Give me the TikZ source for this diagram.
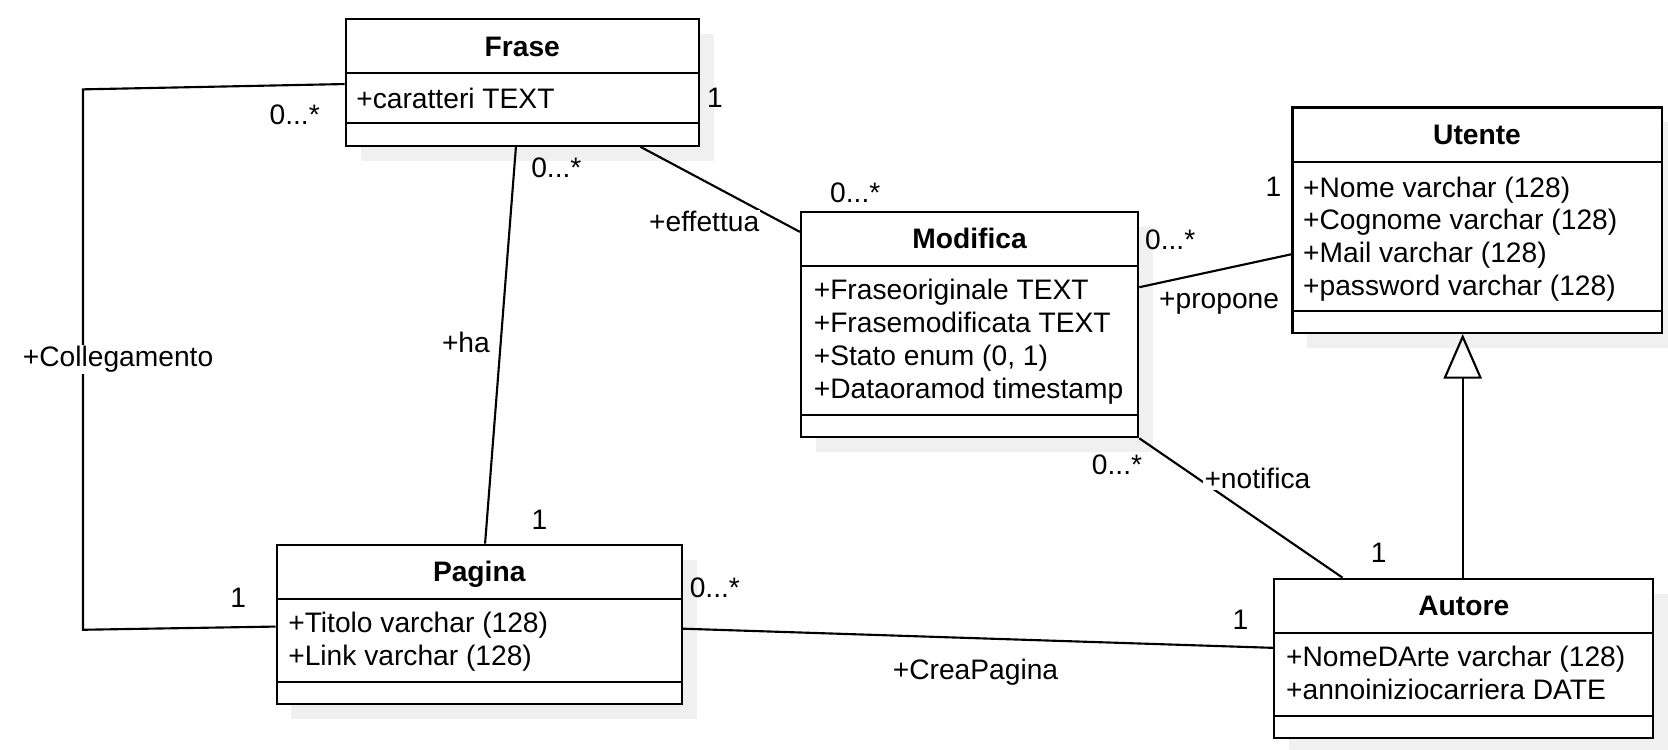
\documentclass[tikz,border=0pt]{standalone}
\usepackage{fontspec}
\setmainfont{Liberation Sans}
\usetikzlibrary{shadows}
\usetikzlibrary{arrows.meta}

\newcommand{\umlfont}{\fontsize{26.5}{31}\selectfont}
\tikzset{
  classbox/.style={draw,fill=white,line width=2pt,anchor=north west,inner sep=0pt,
    drop shadow={shadow xshift=14pt,shadow yshift=-14pt,fill=black!6,opacity=1}},
  title/.style={anchor=base,font=\umlfont\bfseries},
  attr/.style={anchor=north west,align=left,inner sep=0pt},
  lbl/.style={fill=white,inner sep=1pt},
}

\begin{document}
\begin{tikzpicture}[x=1pt,y=1pt,line width=2pt,every node/.style={font=\umlfont}]
\useasboundingbox (0,0) rectangle (1568,-705);

\node[classbox,minimum width=332pt,minimum height=119pt] (frase) at (324,-17) {};
\draw ([yshift=-52pt]frase.north west) -- ([yshift=-52pt]frase.north east);
\draw ([yshift=22pt]frase.south west) -- ([yshift=22pt]frase.south east);
\node[title] (frase-name) at ([yshift=-36pt]frase.north) {Frase};
\node[attr] (frase-attr) at ([xshift=10pt,yshift=-65pt]frase.north west) {+caratteri TEXT};

\node[classbox,minimum width=347pt,minimum height=212pt] (utente) at (1214,-100) {};
\draw ([yshift=-52pt]utente.north west) -- ([yshift=-52pt]utente.north east);
\draw ([yshift=22pt]utente.south west) -- ([yshift=22pt]utente.south east);
\node[title] (utente-name) at ([yshift=-36pt]utente.north) {Utente};
\node[attr] (utente-attr) at ([xshift=10pt,yshift=-65pt]utente.north west)
  {+Nome varchar (128)\\+Cognome varchar (128)\\+Mail varchar (128)\\+password varchar (128)};

\node[classbox,minimum width=317pt,minimum height=212pt] (modifica) at (752,-198) {};
\draw ([yshift=-52pt]modifica.north west) -- ([yshift=-52pt]modifica.north east);
\draw ([yshift=22pt]modifica.south west) -- ([yshift=22pt]modifica.south east);
\node[title] (modifica-name) at ([yshift=-36pt]modifica.north) {Modifica};
\node[attr] (modifica-attr) at ([xshift=12pt,yshift=-63pt]modifica.north west)
  {+Fraseoriginale TEXT\\+Frasemodificata TEXT\\+Stato enum (0, 1)\\+Dataoramod timestamp};

\node[classbox,minimum width=381pt,minimum height=150pt] (pagina) at (259,-511) {};
\draw ([yshift=-52pt]pagina.north west) -- ([yshift=-52pt]pagina.north east);
\draw ([yshift=22pt]pagina.south west) -- ([yshift=22pt]pagina.south east);
\node[title] (pagina-name) at ([yshift=-36pt]pagina.north) {Pagina};
\node[attr] (pagina-attr) at ([xshift=11pt,yshift=-63pt]pagina.north west)
  {+Titolo varchar (128)\\+Link varchar (128)};

\node[classbox,minimum width=356pt,minimum height=150pt] (autore) at (1197,-543) {};
\draw ([yshift=-52pt]autore.north west) -- ([yshift=-52pt]autore.north east);
\draw ([yshift=22pt]autore.south west) -- ([yshift=22pt]autore.south east);
\node[title] (autore-name) at ([yshift=-36pt]autore.north) {Autore};
\node[attr] (autore-attr) at ([xshift=11pt,yshift=-63pt]autore.north west)
  {+NomeDArte varchar (128)\\+annoiniziocarriera DATE};

\draw ([xshift=-6pt]frase.south) -- ([xshift=5.5pt]pagina.north);
\draw ([xshift=111pt]frase.south) -- ([yshift=-20pt]modifica.north west);
\draw ([yshift=-62pt]frase.north west) -- (78,-84) -- (78,-592) -- ([yshift=-78pt]pagina.north west);
\draw ([yshift=-72pt]modifica.north east) -- ([yshift=-139pt]utente.north west);
\draw (modifica.south east) -- ([xshift=65pt]autore.north west);
\draw ([yshift=-80pt]pagina.north east) -- ([yshift=-66pt]autore.north west);
\draw[-{Triangle[open,length=42pt,width=36pt]}] ([xshift=178pt]autore.north west) -- ([xshift=161pt]utente.south west);

\node[lbl] (ha) at (438,-322) {+ha};
\node[lbl] (effettua) at (662,-208) {+effettua};
\node[lbl] (collegamento) at (111,-338) {+Collegamento};
\node[lbl] (propone) at (1146,-285) {+propone};
\node[lbl] (notifica) at (1182,-450) {+notifica};
\node[lbl] (creapagina) at (917,-632) {+CreaPagina};

\node (ha-frase) at (523,-158) {0...*};
\node (ha-pagina) at (507,-489) {1};
\node (eff-frase) at (672,-92) {1};
\node (eff-modifica) at (804,-181) {0...*};
\node (col-frase) at (277,-108) {0...*};
\node (col-pagina) at (224,-562) {1};
\node (pro-modifica) at (1100,-225) {0...*};
\node (pro-utente) at (1197,-176) {1};
\node (not-modifica) at (1050,-437) {0...*};
\node (not-autore) at (1296,-520) {1};
\node (crea-pagina) at (672,-553) {0...*};
\node (crea-autore) at (1166,-583) {1};
\end{tikzpicture}
\end{document}
